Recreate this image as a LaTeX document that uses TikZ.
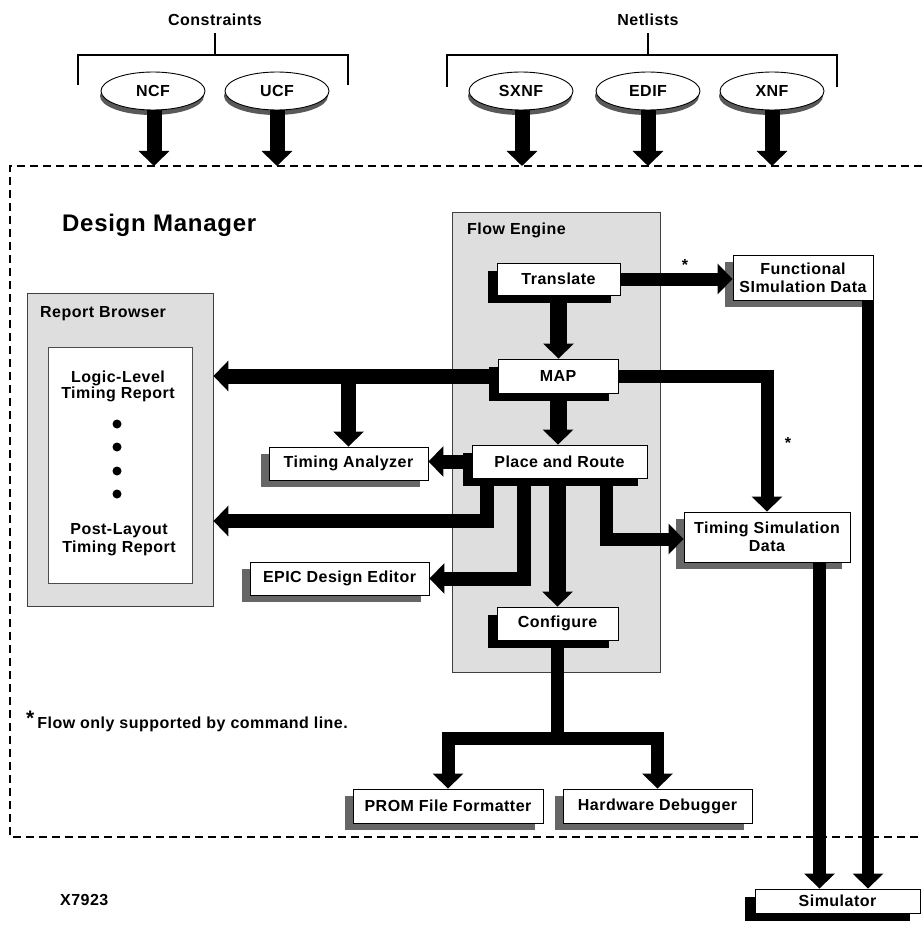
\documentclass[tikz,border=0pt]{standalone}
\usepackage{fontspec}
\setmainfont{Liberation Sans}[LetterSpace=3]
\usetikzlibrary{arrows.meta,shadows,calc,shapes.geometric}
\begin{document}
\begin{tikzpicture}[x=1pt,y=-1pt,
  every node/.style={font=\bfseries\fontsize{16}{18}\selectfont, inner sep=0pt},
  box/.style={draw=black, line width=0.9pt, fill=white, align=center},
  bshadow/.style={drop shadow={shadow xshift=-9pt, shadow yshift=-8pt, fill=black, opacity=1}},
  gshadow/.style={drop shadow={shadow xshift=-8pt, shadow yshift=-7pt, fill=black!60, opacity=1}},
  eshadow/.style={drop shadow={shadow xshift=-1pt, shadow yshift=-5pt, fill=black!65, opacity=1}},
  fatarrow/.style={line width=#1, line join=miter, -{Triangle[width=30pt,length=15pt]}},
  disk/.style={ellipse, draw, line width=0.9pt, fill=white, minimum width=104pt, minimum height=38pt},
  bracket/.style={line width=1.3pt},
  border/.style={line width=1.8pt, dash pattern=on 8pt off 5pt},
  panel/.style={draw=black!75, line width=0.8pt, fill=black!13},
]
\useasboundingbox (0,0) rectangle (922,925);

% top labels and brackets
\node (cons) at (215,20) {Constraints};
\node (nets) at (648,20) {Netlists};
\draw[bracket] (78,85) -- (78,55) -- (348,55) -- (348,85);
\draw[bracket] (215,55) -- (215,33);
\draw[bracket] (447,87) -- (447,55) -- (837,55) -- (837,87);
\draw[bracket] (648,55) -- (648,33);

% ellipses
\node[disk,eshadow] (ncf) at (153,91) {NCF};
\node[disk,eshadow] (ucf) at (277,91) {UCF};
\node[disk,eshadow] (sxnf) at (521,91) {SXNF};
\node[disk,eshadow] (edif) at (648,91) {EDIF};
\node[disk,eshadow] (xnf) at (772,91) {XNF};

% design manager border
\draw[border] (922,166) -- (10,166) -- (10,837) -- (922,837);
\coordinate (in1) at (154,166);
\coordinate (in2) at (277,166);
\coordinate (in3) at (522,166);
\coordinate (in4) at (648,166);
\coordinate (in5) at (772,166);
\draw[fatarrow=15pt] (ncf.south -| in1) -- (in1);
\draw[fatarrow=15pt] (ucf.south -| in2) -- (in2);
\draw[fatarrow=15pt] (sxnf.south -| in3) -- (in3);
\draw[fatarrow=15pt] (edif.south -| in4) -- (in4);
\draw[fatarrow=15pt] (xnf.south -| in5) -- (in5);

\node[anchor=base west, font=\bfseries\fontsize{24}{28}\selectfont] (dm) at (62,232) {Design Manager};

% flow engine panel
\node[panel, minimum width=208pt, minimum height=460pt] (fe) at (556,442) {};
\node[anchor=base west] (fet) at (467,234) {Flow Engine};

% report browser
\node[panel, minimum width=186pt, minimum height=313pt] (rb) at (120,449.5) {};
\node[draw=black!70, line width=0.8pt, fill=white, minimum width=144pt, minimum height=236pt] (rbin) at (120,465) {};
\node[anchor=base west] (rbt) at (40,317) {Report Browser};
\node[align=center, font=\bfseries\fontsize{16}{16}\selectfont] (ll) at (118,386) {Logic-Level\\Timing Report};
\node[align=center, font=\bfseries\fontsize{16}{18}\selectfont] (pl) at (119,540) {Post-Layout\\Timing Report};
\node[circle, fill=black, minimum size=9pt] (b1) at (117,424) {};
\node[circle, fill=black, minimum size=9pt] (b2) at (117,447) {};
\node[circle, fill=black, minimum size=9pt] (b3) at (117,471) {};
\node[circle, fill=black, minimum size=9pt] (b4) at (117,494) {};

% boxes
\node[box,bshadow,minimum width=123pt,minimum height=32pt] (tr) at (558.5,279) {Translate};
\node[box,bshadow,minimum width=120pt,minimum height=34pt] (map) at (558,376) {MAP};
\node[box,bshadow,minimum width=175pt,minimum height=33pt] (pr) at (559.5,461.5) {Place and Route};
\node[box,bshadow,minimum width=121pt,minimum height=33pt] (cfg) at (557.5,623.5) {Configure};
\node[box,gshadow,minimum width=140pt,minimum height=45pt] (fsd) at (803,277.5) {Functional\\SImulation Data};
\node[box,gshadow,minimum width=166pt,minimum height=50pt] (tsd) at (767,537) {Timing Simulation\\Data};
\node[box,gshadow,minimum width=159pt,minimum height=33pt] (ta) at (348.5,463.5) {Timing Analyzer};
\node[box,gshadow,minimum width=179pt,minimum height=33pt] (epic) at (339.5,578.5) {EPIC Design Editor};
\node[box,gshadow,minimum width=190pt,minimum height=34pt] (prom) at (448,806) {PROM File Formatter};
\node[box,gshadow,minimum width=189pt,minimum height=34pt] (hw) at (657.5,806) {Hardware Debugger};
\node[box,drop shadow={shadow xshift=-10pt,shadow yshift=-8pt,fill=black,opacity=1},minimum width=165pt,minimum height=24pt] (sim) at (837.5,901) {Simulator};

% connectors
\draw[fatarrow=13pt] (tr.east) -- (tr.east -| fsd.west);
\node[anchor=base] (s1) at (685,270) {*};
\draw[fatarrow=17pt] (tr.south) -- (tr.south |- map.north);
\draw[fatarrow=15pt] (map.west) -- (map.west -| rb.east);
\draw[fatarrow=15pt] (map.west -| ta.north) -- (ta.north);
\draw[fatarrow=17pt] (map.south) -- (map.south |- pr.north);
\draw[fatarrow=13pt] (map.east) -| (tsd.north);
\node[anchor=base] (s2) at (788,448) {*};
\draw[fatarrow=14pt] (pr.west) -- (pr.west -| ta.east);
\coordinate (p1) at ($(pr.south)+(-72.5,0)$);
\coordinate (p2) at ($(pr.south)+(-35.5,0)$);
\coordinate (p3) at ($(pr.south)+(46.5,0)$);
\draw[fatarrow=14pt] (p1) |- ($(rb.east)+(0,71.5)$);
\draw[fatarrow=14pt] (p2) |- (epic.east);
\draw[fatarrow=17pt] (pr.south -| cfg.north) -- (cfg.north);
\draw[fatarrow=13pt] (p3) |- ($(tsd.west)+(0,2)$);
\coordinate (split) at ($(cfg.south)+(0,98)$);
\draw[fatarrow=13pt] (cfg.south) -- (split) -| (prom.north);
\draw[fatarrow=13pt] (cfg.south) -- (split) -| (hw.north);
\coordinate (f1) at ($(fsd.south)+(65,0)$);
\draw[fatarrow=12pt] (f1) -- (f1 |- sim.north);
\coordinate (t1) at ($(tsd.south)+(52.5,0)$);
\draw[fatarrow=13pt] (t1) -- (t1 |- sim.north);

% notes
\node[anchor=base west, font=\bfseries\fontsize{16}{18}\selectfont] (note) at (26,728) {\raisebox{3pt}{\fontsize{21}{21}\selectfont *}\hspace{3pt}Flow only supported by command line.};
\node[anchor=base west] (fig) at (60,905) {X7923};
\end{tikzpicture}
\end{document}
